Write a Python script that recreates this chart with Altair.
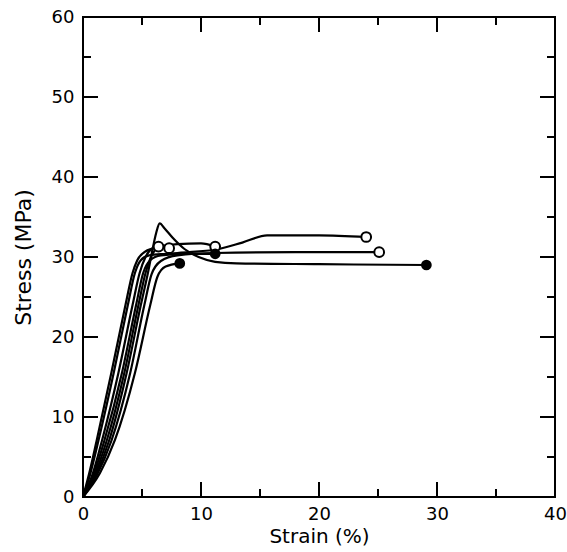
import altair as alt
import pandas as pd

# ---- data (strain %, stress MPa) ----
c1_strain = [0, 0.5, 1.15, 2.4, 3.6, 4.2, 4.6, 5.2, 6.0, 8.0, 10.0, 11.2]
c1_stress = [0, 2.8, 7.0, 15.5, 24.0, 28.0, 29.6, 30.6, 31.1, 31.6, 31.7, 31.3]

c2_strain = [0, 0.6, 1.3, 2.6, 3.8, 4.4, 4.9, 5.6, 7.0, 9.0, 11.5, 13.5, 15.6, 20.0, 24.0]
c2_stress = [0, 2.8, 7.0, 15.5, 24.0, 28.0, 29.6, 30.2, 30.4, 30.6, 31.0, 31.8, 32.7, 32.7, 32.5]

c3_strain = [0, 0.8, 1.6, 3.0, 4.2, 4.8, 5.3, 5.8, 6.4]
c3_stress = [0, 2.8, 7.0, 15.5, 24.0, 28.0, 30.0, 31.0, 31.3]

c4_strain = [0, 0.9, 1.8, 3.3, 4.5, 5.1, 5.7, 6.6, 8.5, 11.2]
c4_stress = [0, 2.8, 7.0, 15.5, 24.0, 28.0, 29.6, 30.2, 30.4, 30.4]

c5_strain = [0, 1.0, 2.0, 3.5, 4.7, 5.3, 5.9, 6.5, 7.3]
c5_stress = [0, 2.8, 7.0, 15.5, 24.0, 28.0, 30.4, 31.2, 31.1]

c6_strain = [0, 1.1, 2.2, 3.7, 4.9, 5.5, 5.9, 6.2, 6.5, 6.9, 7.6, 8.6, 9.8, 11.2, 13.0, 20.0, 29.1]
c6_stress = [0, 2.8, 7.0, 15.5, 24.0, 28.0, 31.0, 33.0, 34.2, 33.6, 32.4, 31.0, 30.0, 29.4, 29.2, 29.1, 29.0]

c7_strain = [0, 1.2, 2.4, 4.0, 5.2, 5.8, 6.6, 8.0, 11.2, 18.0, 25.1]
c7_stress = [0, 2.8, 7.0, 15.5, 24.0, 27.8, 29.5, 30.2, 30.5, 30.6, 30.6]

c8_strain = [0, 1.44, 2.7, 4.4, 5.7, 6.3, 7.0, 8.2]
c8_stress = [0, 3.0, 7.1, 15.5, 24.0, 27.5, 28.8, 29.2]

curve_names = ["c1", "c2", "c3", "c4", "c5", "c6", "c7", "c8"]
curve_strains = [c1_strain, c2_strain, c3_strain, c4_strain, c5_strain, c6_strain, c7_strain, c8_strain]
curve_stresses = [c1_stress, c2_stress, c3_stress, c4_stress, c5_stress, c6_stress, c7_stress, c8_stress]
end_open = [True, True, True, False, True, False, True, False]  # open circle vs filled dot

x_labels = [0, 10, 20, 30, 40]
y_labels = [0, 10, 20, 30, 40, 50, 60]
x_minor = [5, 15, 25, 35]
y_minor = [5, 15, 25, 35, 45, 55]

# ---- layout / style ----
W, H = 472, 480
XMAX, YMAX = 40, 60
MAJOR_PX, MINOR_PX = 15, 8
FONT = "DejaVu Sans"

rows = []
ends = []
for name, xs, ys, op in zip(curve_names, curve_strains, curve_stresses, end_open):
    for i, (a, b) in enumerate(zip(xs, ys)):
        rows.append({"curve": name, "i": i, "strain": a, "stress": b})
    ends.append({"curve": name, "strain": xs[-1], "stress": ys[-1], "open": op})
df = pd.DataFrame(rows)
ends_df = pd.DataFrame(ends)

# tick segments in data units (ticks point inward on all four sides)
px_x = XMAX / W
px_y = YMAX / H
ticks = []
for v in x_labels[1:-1] + x_minor:
    L = MAJOR_PX if v in x_labels else MINOR_PX
    ticks.append({"x": v, "x2": v, "y": 0, "y2": L * px_y})
    ticks.append({"x": v, "x2": v, "y": YMAX, "y2": YMAX - L * px_y})
for v in y_labels[1:-1] + y_minor:
    L = MAJOR_PX if v in y_labels else MINOR_PX
    ticks.append({"x": 0, "x2": L * px_x, "y": v, "y2": v})
    ticks.append({"x": XMAX, "x2": XMAX - L * px_x, "y": v, "y2": v})
ticks_df = pd.DataFrame(ticks)

xscale = alt.Scale(domain=[0, XMAX], nice=False)
yscale = alt.Scale(domain=[0, YMAX], nice=False)

xaxis = alt.Axis(values=x_labels, title="Strain (%)", grid=False, domain=False, ticks=False,
                 labelFlush=False, labelOverlap=False,
                 labelFont=FONT, labelFontSize=18, labelColor="black", labelPadding=8,
                 titleFont=FONT, titleFontSize=20, titleFontWeight="normal", titleColor="black",
                 titlePadding=3)
yaxis = alt.Axis(values=y_labels, title="Stress (MPa)", grid=False, domain=False, ticks=False,
                 labelFlush=False, labelOverlap=False,
                 labelFont=FONT, labelFontSize=18, labelColor="black", labelPadding=9,
                 titleFont=FONT, titleFontSize=22, titleFontWeight="normal", titleColor="black",
                 titlePadding=16)

lines = alt.Chart(df).mark_line(color="black", strokeWidth=2.2, interpolate="monotone").encode(
    x=alt.X("strain:Q", scale=xscale, axis=xaxis),
    y=alt.Y("stress:Q", scale=yscale, axis=yaxis),
    detail="curve:N",
    order="i:Q",
)

open_pts = alt.Chart(ends_df).transform_filter("datum.open").mark_point(
    shape="circle", size=95, filled=True, fill="white", stroke="black", strokeWidth=2, opacity=1
).encode(x=alt.X("strain:Q", scale=xscale), y=alt.Y("stress:Q", scale=yscale))

filled_pts = alt.Chart(ends_df).transform_filter("!datum.open").mark_point(
    shape="circle", size=115, filled=True, color="black", opacity=1
).encode(x=alt.X("strain:Q", scale=xscale), y=alt.Y("stress:Q", scale=yscale))

tick_rules = alt.Chart(ticks_df).mark_rule(color="black", strokeWidth=2).encode(
    x=alt.X("x:Q", scale=xscale), x2="x2:Q",
    y=alt.Y("y:Q", scale=yscale), y2="y2:Q",
)

chart = alt.layer(tick_rules, lines, open_pts, filled_pts).properties(
    width=W, height=H,
    autosize=alt.AutoSizeParams(type="none"),
    padding={"left": 83, "top": 17, "right": 12, "bottom": 55},
    background="white",
).configure_view(stroke="black", strokeWidth=2)

chart.save("out.html", embed_options={"renderer": "svg", "actions": False})
